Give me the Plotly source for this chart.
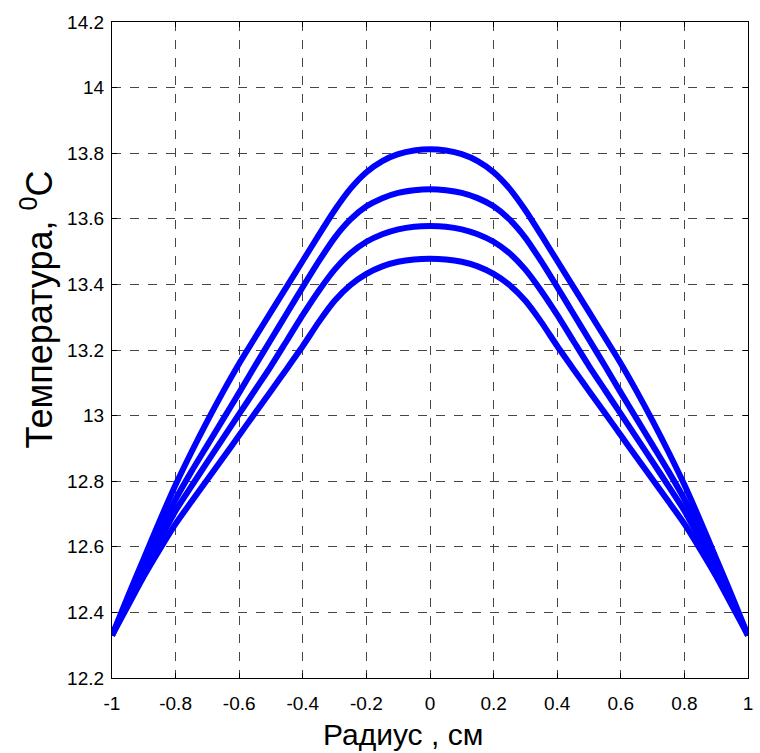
import plotly.graph_objects as go

radius = [-1.0, -0.95, -0.9, -0.85, -0.8, -0.75, -0.7, -0.65, -0.6, -0.55, -0.5,
          -0.45, -0.4, -0.35, -0.3, -0.25, -0.2, -0.15, -0.1, -0.05, 0.0,
          0.05, 0.1, 0.15, 0.2, 0.25, 0.3, 0.35, 0.4, 0.45, 0.5,
          0.55, 0.6, 0.65, 0.7, 0.75, 0.8, 0.85, 0.9, 0.95, 1.0]

temp_1 = [12.33, 12.449, 12.564, 12.679, 12.789, 12.889, 12.984, 13.074, 13.159, 13.238, 13.316,
          13.394, 13.472, 13.55, 13.626, 13.692, 13.742, 13.776, 13.797, 13.808, 13.812,
          13.808, 13.797, 13.776, 13.742, 13.692, 13.626, 13.55, 13.472, 13.394, 13.316,
          13.238, 13.159, 13.074, 12.984, 12.889, 12.789, 12.679, 12.564, 12.449, 12.33]
temp_2 = [12.33, 12.435, 12.54, 12.645, 12.745, 12.83, 12.91, 12.99, 13.07, 13.152, 13.232,
          13.312, 13.392, 13.47, 13.542, 13.598, 13.638, 13.663, 13.679, 13.687, 13.69,
          13.687, 13.679, 13.663, 13.638, 13.598, 13.542, 13.47, 13.392, 13.312, 13.232,
          13.152, 13.07, 12.99, 12.91, 12.83, 12.745, 12.645, 12.54, 12.435, 12.33]
temp_3 = [12.33, 12.428, 12.525, 12.62, 12.71, 12.785, 12.859, 12.932, 13.005, 13.078, 13.151,
          13.229, 13.307, 13.38, 13.445, 13.495, 13.53, 13.553, 13.568, 13.576, 13.578,
          13.576, 13.568, 13.553, 13.53, 13.495, 13.445, 13.38, 13.307, 13.229, 13.151,
          13.078, 13.005, 12.932, 12.859, 12.785, 12.71, 12.62, 12.525, 12.428, 12.33]
temp_4 = [12.33, 12.42, 12.51, 12.592, 12.67, 12.738, 12.805, 12.872, 12.94, 13.008, 13.075,
          13.143, 13.212, 13.285, 13.35, 13.398, 13.432, 13.455, 13.469, 13.476, 13.478,
          13.476, 13.469, 13.455, 13.432, 13.398, 13.35, 13.285, 13.212, 13.143, 13.075,
          13.008, 12.94, 12.872, 12.805, 12.738, 12.67, 12.592, 12.51, 12.42, 12.33]

x_ticks = [-1, -0.8, -0.6, -0.4, -0.2, 0, 0.2, 0.4, 0.6, 0.8, 1]
x_labels = ["-1", "-0.8", "-0.6", "-0.4", "-0.2", "0", "0.2", "0.4", "0.6", "0.8", "1"]
y_ticks = [12.2, 12.4, 12.6, 12.8, 13, 13.2, 13.4, 13.6, 13.8, 14, 14.2]
y_labels = ["12.2", "12.4", "12.6", "12.8", "13", "13.2", "13.4", "13.6", "13.8", "14", "14.2"]

fig = go.Figure()
for series in [temp_1, temp_2, temp_3, temp_4]:
    fig.add_trace(go.Scatter(x=radius, y=series, mode="lines",
                             line=dict(color="#0000FF", width=6, shape="spline", smoothing=0.6),
                             showlegend=False))

axis_common = dict(showline=True, linecolor="black", linewidth=1.3, mirror="ticks",
                   ticks="inside", ticklen=5, tickcolor="black",
                   showgrid=True, gridcolor="rgba(50,50,50,0.9)", gridwidth=1, griddash="dash",
                   zeroline=False, tickfont=dict(family="Liberation Sans, Arial", size=19, color="black"))

fig.update_xaxes(range=[-1, 1], tickvals=x_ticks, ticktext=x_labels, ticklabelstandoff=8, **axis_common)
fig.update_yaxes(range=[12.2, 14.2], tickvals=y_ticks, ticktext=y_labels, ticklabelstandoff=3, **axis_common)

fig.update_layout(
    width=760, height=753,
    margin=dict(l=112, r=7, t=22, b=75),
    paper_bgcolor="white", plot_bgcolor="white",
    annotations=[
        dict(text="Радиус , см", xref="paper", yref="paper", x=(405 - 112) / 641, y=-(734 - 678) / 656,
             xanchor="center", yanchor="middle", showarrow=False,
             font=dict(family="Liberation Sans, Arial", size=30, color="black")),
        dict(text="Температура, <sup>0</sup>C", xref="paper", yref="paper", x=-(112 - 36) / 641,
             y=(678 - 310) / 656, xanchor="center", yanchor="middle", textangle=-90, showarrow=False,
             font=dict(family="Liberation Sans, Arial", size=36, color="black")),
    ],
)

# Remove the default 8px page margin so the 760x753 figure fills the window exactly.
fig.write_html("out.html", config={"displayModeBar": False},
               post_script="document.body.style.margin='0';")
